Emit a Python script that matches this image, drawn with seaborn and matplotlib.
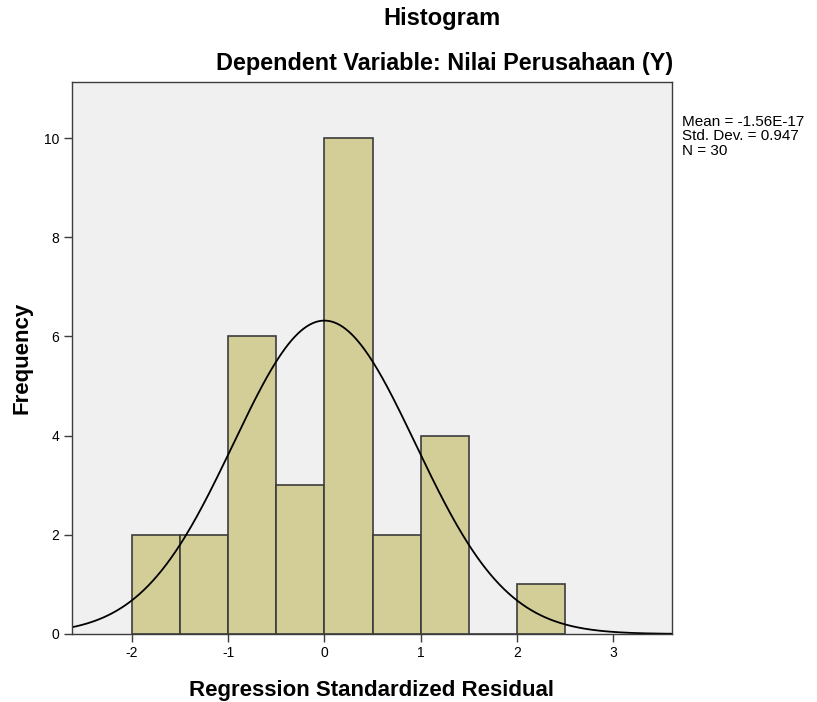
import numpy as np
import pandas as pd
import matplotlib
matplotlib.use("Agg")
import matplotlib.pyplot as plt
import seaborn as sns

# Histogram bins
bin_edges = [-2.0, -1.5, -1.0, -0.5, 0.0, 0.5, 1.0, 1.5, 2.0, 2.5]
bin_counts = [2, 2, 6, 3, 10, 2, 4, 0, 1]

# Summary stats shown in the legend box
mean_label = '-1.56E-17'
mean_val = -1.56e-17
std_val = 0.947
n_val = 30

sns.set_style("white")
plt.rcParams['font.family'] = ['Liberation Sans', 'DejaVu Sans']
plt.rcParams['text.color'] = 'black'
plt.rcParams['axes.labelcolor'] = 'black'
plt.rcParams['xtick.color'] = 'black'
plt.rcParams['ytick.color'] = 'black'

fig = plt.figure(figsize=(8.17, 7.02), dpi=100)
ax = fig.add_axes([0.0881, 0.0969, 0.7344, 0.7863])
ax.set_facecolor('#f0f0f0')

centers = [(a + b) / 2 for a, b in zip(bin_edges[:-1], bin_edges[1:])]
df = pd.DataFrame({'resid': centers, 'count': bin_counts})
sns.histplot(data=df, x='resid', weights='count', bins=bin_edges, ax=ax,
             color='#d3ce97', alpha=1, edgecolor='#3c3c3c', linewidth=1.2)

# Normal curve scaled to frequency
bw = bin_edges[1] - bin_edges[0]
xs = np.linspace(-2.65, 3.65, 400)
ys = n_val * bw / (std_val * np.sqrt(2 * np.pi)) * np.exp(-0.5 * ((xs - mean_val) / std_val) ** 2)
sns.lineplot(x=xs, y=ys, ax=ax, color='black', linewidth=1.3)

ax.set_xlim(-2.624, 3.613)
ax.set_ylim(0, 11.13)
ax.set_xticks([-2, -1, 0, 1, 2, 3])
ax.set_xticklabels(['-2', '-1', '0', '1', '2', '3'])
ax.set_yticks([0, 2, 4, 6, 8, 10])
ax.tick_params(axis='both', direction='out', length=6, width=1, color='#3c3c3c',
               labelsize=10, pad=3, bottom=True, left=True)

for s in ax.spines.values():
    s.set_color('#3c3c3c')
    s.set_linewidth(1)

ax.set_xlabel('Regression Standardized Residual', fontsize=16, fontweight='bold', labelpad=14)
ax.set_ylabel('Frequency', fontsize=16, fontweight='bold', labelpad=8)

fig.text(0.541, 0.974, 'Histogram', ha='center', va='center', fontsize=17, fontweight='bold')
fig.text(0.544, 0.909, 'Dependent Variable: Nilai Perusahaan (Y)', ha='center', va='center',
         fontsize=16.8, fontweight='bold')

fig.text(0.835, 0.836,
         'Mean = {}\nStd. Dev. = {:.3f}\nN = {}'.format(mean_label, std_val, n_val),
         ha='left', va='top', fontsize=11, linespacing=1.03)

fig.savefig('out.png', dpi=100)
